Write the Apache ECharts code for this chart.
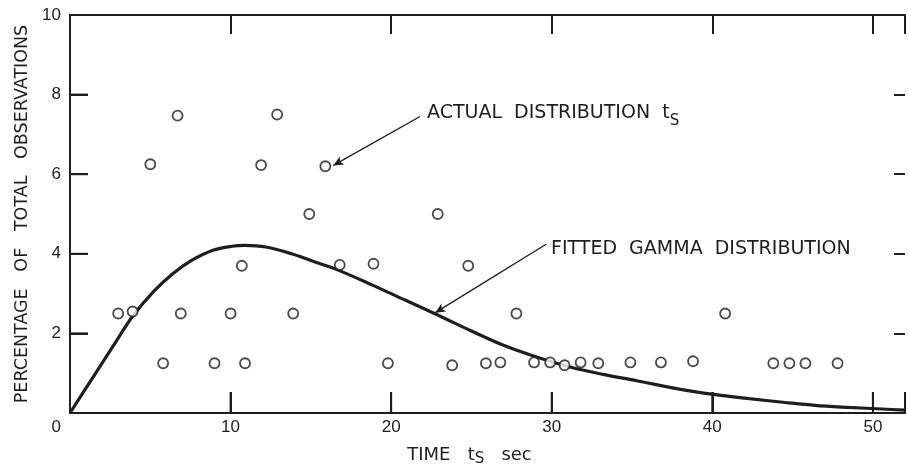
<!DOCTYPE html>
<html>
<head>
<meta charset="utf-8">
<script src="https://cdn.jsdelivr.net/npm/echarts@6/dist/echarts.min.js"></script>
<style>
html,body{margin:0;padding:0;background:#fff;}
#chart{width:908px;height:472px;}
</style>
</head>
<body>
<div id="chart"></div>
<script>
// Observed distribution (time ts in sec, percentage of total observations)
const obsTime = [3.0, 3.9, 5.0, 5.8, 6.7, 6.9, 9.0, 10.0, 10.7, 10.9, 11.9, 12.9, 13.9, 14.9, 15.9, 16.8, 18.9, 19.8, 22.9, 23.8, 24.8, 25.9, 26.8, 27.8, 28.9, 29.9, 30.8, 31.8, 32.9, 34.9, 36.8, 38.8, 40.8, 43.8, 44.8, 45.8, 47.8];
const obsPct  = [2.5, 2.55, 6.25, 1.25, 7.47, 2.5, 1.25, 2.5, 3.7, 1.25, 6.23, 7.5, 2.5, 5.0, 6.2, 3.72, 3.75, 1.25, 5.0, 1.2, 3.7, 1.25, 1.27, 2.5, 1.27, 1.27, 1.2, 1.27, 1.25, 1.27, 1.27, 1.3, 2.5, 1.25, 1.25, 1.25, 1.25];
// Fitted gamma distribution curve
const fitTime = [0, 1.5, 2.7, 3.9, 5.2, 6.4, 7.6, 8.9, 10.1, 10.9, 12.2, 13.8, 15.5, 16.7, 18.8, 20.8, 22.7, 25.0, 27.0, 29.1, 31.2, 33.2, 35.3, 38.2, 40.2, 42.3, 44.4, 46.4, 48.5, 50.6, 52];
const fitPct  = [0, 0.94, 1.69, 2.43, 3.05, 3.5, 3.84, 4.09, 4.19, 4.21, 4.17, 4.0, 3.76, 3.59, 3.22, 2.85, 2.5, 2.06, 1.70, 1.40, 1.15, 0.97, 0.81, 0.58, 0.46, 0.36, 0.27, 0.19, 0.14, 0.1, 0.07];
const xTicks = [0, 10, 20, 30, 40, 50];
const yTicks = [0, 2, 4, 6, 8, 10];

const NUMFONT = 'Liberation Sans';
const FONT = 'DejaVu Sans';
const INK = '#1e1e1e';
const X_MAX = 52, Y_MAX = 10;

const chart = echarts.init(document.getElementById('chart'), null, {renderer: 'canvas'});

const scatterData = obsTime.map((t, i) => [t, obsPct[i]]);
const curveData = fitTime.map((t, i) => [t, fitPct[i]]);

function mkLine(show, onZero) { return {show: show, onZero: onZero, lineStyle: {color: INK, width: 2}}; }
function mkTick(len) { return {show: true, inside: true, length: len, lineStyle: {color: INK, width: 2}}; }

const arrows = [
  [{coord: [29.65, 4.24]}, {coord: [22.75, 2.52]}],
  [{coord: [21.8, 7.45]}, {coord: [16.4, 6.22]}]
];

const textGraphics = [
  {
    type: 'text', left: 427, top: 104, z: 50,
    style: {
      text: 'ACTUAL  DISTRIBUTION  {t|t}{s|S}',
      fill: INK, font: '19px "DejaVu Sans"',
      rich: {
        t: {fill: INK, font: '19px "DejaVu Sans"'},
        s: {fill: INK, font: '15px "DejaVu Sans"', padding: [15, 0, 0, 0]}
      }
    }
  },
  {
    type: 'text', left: 551, top: 240, z: 50,
    style: {
      text: 'FITTED  GAMMA  DISTRIBUTION',
      fill: INK, font: '19px "DejaVu Sans"'
    }
  }
];

chart.setOption({
  backgroundColor: '#ffffff',
  animation: false,
  grid: {left: 70, top: 15, right: 0, bottom: 54},
  xAxis: [
    {
      type: 'value', position: 'bottom', min: 0, max: X_MAX, interval: 10,
      axisLine: mkLine(true, true),
      axisTick: mkTick(21),
      splitLine: {show: false},
      axisLabel: {
        margin: 6, color: INK, fontFamily: NUMFONT, fontSize: 17,
        formatter: v => (xTicks.includes(v) && v !== 0) ? String(v) : ''
      },
      name: 'TIME   {t|t}{s|S}   sec{pad|}',
      nameLocation: 'middle', nameGap: 30,
      nameTextStyle: {
        color: INK, fontFamily: FONT, fontSize: 18,
        rich: {
          t: {color: INK, fontFamily: FONT, fontSize: 18},
          s: {color: INK, fontFamily: FONT, fontSize: 15, padding: [9, 0, 0, 0]},
          pad: {width: 36}
        }
      }
    },
    {
      type: 'value', position: 'top', min: 0, max: X_MAX, interval: 10,
      axisLine: mkLine(true, false),
      axisTick: mkTick(19),
      splitLine: {show: false},
      axisLabel: {show: false}
    }
  ],
  yAxis: [
    {
      type: 'value', position: 'left', min: 0, max: Y_MAX, interval: 2,
      axisLine: mkLine(true, true),
      axisTick: mkTick(18),
      splitLine: {show: false},
      axisLabel: {
        margin: 9, color: INK, fontFamily: NUMFONT, fontSize: 17,
        formatter: v => yTicks.includes(v) ? (v === 0 ? '{z|0}' : String(v)) : '',
        rich: {z: {color: INK, fontFamily: NUMFONT, fontSize: 17, padding: [28, 0, 0, 0]}}
      },
      name: 'PERCENTAGE   OF   TOTAL   OBSERVATIONS',
      nameLocation: 'middle', nameGap: 38, nameRotate: 90,
      nameTextStyle: {color: INK, fontFamily: FONT, fontSize: 17.5}
    },
    {
      type: 'value', position: 'right', min: 0, max: Y_MAX, interval: 2,
      axisLine: mkLine(false, false),
      axisTick: mkTick(11),
      splitLine: {show: false},
      axisLabel: {show: false}
    }
  ],
  series: [
    {
      name: 'Fitted gamma distribution',
      type: 'line', xAxisIndex: 0, yAxisIndex: 0,
      data: curveData, smooth: 0.35, showSymbol: false, symbol: 'none',
      lineStyle: {color: INK, width: 3.2},
      z: 2,
      markLine: {
        silent: true, symbol: ['none', 'arrow'], symbolSize: [7, 10],
        label: {show: false},
        lineStyle: {color: INK, width: 1.4, type: 'solid'},
        data: arrows
      }
    },
    {
      name: 'Actual distribution',
      type: 'scatter', xAxisIndex: 0, yAxisIndex: 0,
      data: scatterData, symbol: 'circle', symbolSize: 10,
      itemStyle: {color: '#ffffff', borderColor: INK, borderWidth: 1.8},
      z: 3
    }
  ],
  graphic: textGraphics
});

// Inward frame ticks on the bottom and left edges, placed through the chart's own scales
const tickGraphics = [];
xTicks.filter(v => v > 0 && v < X_MAX).forEach(v => {
  const p = chart.convertToPixel({seriesIndex: 0}, [v, 0]);
  tickGraphics.push({type: 'line', z: 100, silent: true,
    shape: {x1: p[0], y1: p[1], x2: p[0], y2: p[1] - 21},
    style: {stroke: INK, lineWidth: 2}});
});
yTicks.filter(v => v > 0 && v < Y_MAX).forEach(v => {
  const p = chart.convertToPixel({seriesIndex: 0}, [0, v]);
  tickGraphics.push({type: 'line', z: 100, silent: true,
    shape: {x1: p[0], y1: p[1], x2: p[0] + 18, y2: p[1]},
    style: {stroke: INK, lineWidth: 2}});
});
chart.setOption({graphic: textGraphics.concat(tickGraphics)});
</script>
</body>
</html>
